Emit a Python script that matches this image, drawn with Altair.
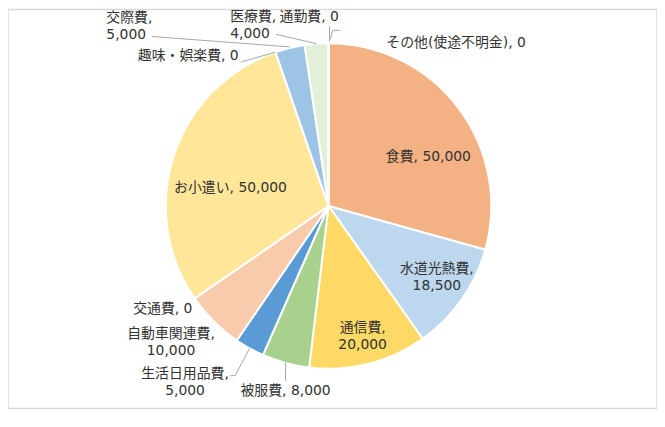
import math
import altair as alt
import pandas as pd

# ---- data ----
categories = ["食費", "水道光熱費", "通信費", "被服費", "生活日用品費", "自動車関連費", "交通費",
              "お小遣い", "趣味・娯楽費", "交際費", "医療費", "通勤費", "その他(使途不明金)"]
values = [50000, 18500, 20000, 8000, 5000, 10000, 0, 50000, 0, 5000, 4000, 0, 0]
colors = ["#F4B183", "#BDD7EE", "#FFD966", "#A9D18E", "#5B9BD5", "#F8CBAD", "#F4B183",
          "#FFE699", "#FFC000", "#9DC3E6", "#E2F0D9", "#C5E0B4", "#ED7D31"]
# label line-break after the category name
two_line = {"水道光熱費", "通信費", "生活日用品費", "自動車関連費", "交際費", "医療費"}

# ---- layout / style ----
W, H = 654, 402
CX, CY, R = 323, 198, 164
FONT = "DejaVu Sans, Noto Sans CJK JP"
LINE_H = 17
TWO_LINE_SHIFT = -7
# label centre offset from the slice's edge point at its mid angle (dx, dy), alignment
label_style = {
    "食費": (-30, 50, "center"),
    "水道光熱費": (-25, -24, "center"),
    "通信費": (-6, -29, "center"),
    "被服費": (0, 28, "center"),
    "生活日用品費": (-65, 33, "center"),
    "自動車関連費": (-43, 20, "center"),
    "交通費": (-32, 11, "center"),
    "お小遣い": (57, 33, "center"),
    "趣味・娯楽費": (-88, 4, "center"),
    "交際費": (-185, -23, "left"),
    "医療費": (-87, -19.5, "left"),
    "通勤費": (-19.5, -26, "center"),
    "その他(使途不明金)": (128.5, 0, "center"),
}
# leader polylines, offsets from the edge point
leader_style = {
    "被服費": [(0, -1), (0, 18)],
    "生活日用品費": [(0, 0), (-14.5, 27.5), (-19.5, 27.5)],
    "趣味・娯楽費": [(0, 0), (-35, 10)],
    "交際費": [(0, -1), (-139, -11.5)],
    "医療費": [(0, 0), (-41, -9.5)],
    "通勤費": [(1, -2), (1, -17)],
    "その他(使途不明金)": [(2, -4), (4, -13), (12, -13)],
}

total = sum(values)
rows, lab_rows, lead_rows = [], [], []
cum = 0
for i, (c, v, col) in enumerate(zip(categories, values, colors)):
    mid = (cum + v / 2) / total * 2 * math.pi
    cum += v
    ex = CX + R * math.sin(mid)
    ey = CY - R * math.cos(mid)
    rows.append({"cat": c, "value": v, "idx": i})
    is2 = c in two_line
    sep = ",\n" if is2 else ", "
    dx, dy, align = label_style[c]
    lab_rows.append({"cat": c, "text": f"{c}{sep}{v:,}", "px": ex + dx,
                     "py": ey + dy + (TWO_LINE_SHIFT if is2 else 0), "align": align})
    for j, (lx, ly) in enumerate(leader_style.get(c, [])):
        lead_rows.append({"cat": c, "k": j, "px": ex + lx, "py": ey + ly})

df = pd.DataFrame(rows)
labs = pd.DataFrame(lab_rows)
leads = pd.DataFrame(lead_rows)

pie = alt.Chart(df).mark_arc(radius=R, stroke="white", strokeWidth=2).encode(
    theta=alt.Theta("value:Q", stack=True),
    order=alt.Order("idx:Q"),
    color=alt.Color("cat:N", scale=alt.Scale(domain=categories, range=colors), legend=None),
    x=alt.value(CX),
    y=alt.value(CY),
)

lines = alt.Chart(leads).mark_line(color="#A6A6A6", strokeWidth=1).encode(
    x=alt.X("px:Q", scale=None, axis=None),
    y=alt.Y("py:Q", scale=None, axis=None),
    detail="cat:N",
    order="k:Q",
)

def text_layer(align):
    return alt.Chart(labs[labs["align"] == align]).mark_text(
        font=FONT, fontSize=14, color="#333333", align=align, baseline="middle",
        lineBreak="\n", lineHeight=LINE_H,
    ).encode(
        x=alt.X("px:Q", scale=None, axis=None),
        y=alt.Y("py:Q", scale=None, axis=None),
        text="text:N",
    )

chart = alt.layer(pie, lines, text_layer("center"), text_layer("left")).properties(
    width=W, height=H, padding=0, autosize="none", background="white"
).configure_view(stroke="#D9D9D9", strokeWidth=1.5)

chart.save("out.html", embed_options={"renderer": "svg", "actions": False})
